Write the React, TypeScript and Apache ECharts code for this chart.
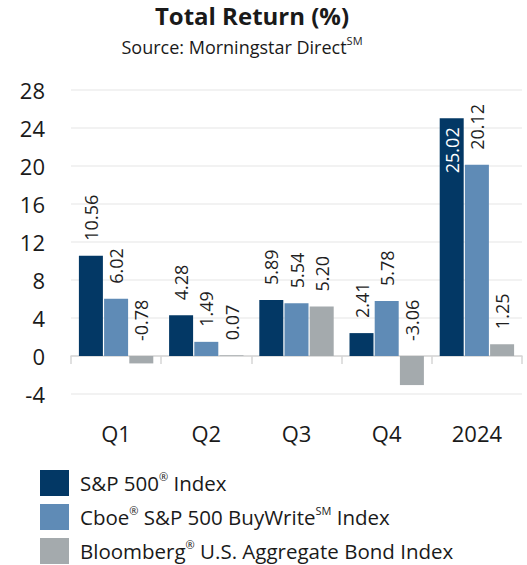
import React, { useEffect, useRef } from "react";
import * as echarts from "echarts";

const categories = ["Q1", "Q2", "Q3", "Q4", "2024"];
const sp500 = [10.56, 4.28, 5.89, 2.41, 25.02];
const buyWrite = [6.02, 1.49, 5.54, 5.78, 20.12];
const aggBond = [-0.78, 0.07, 5.2, -3.06, 1.25];
const seriesNames = [
  "S&P 500® Index",
  "Cboe® S&P 500 BuyWrite℠ Index",
  "Bloomberg® U.S. Aggregate Bond Index",
];
const legendRich: Record<string, string> = {
  "S&P 500® Index": "{t|S&P 500}{s|®}{t| Index}",
  "Cboe® S&P 500 BuyWrite℠ Index": "{t|Cboe}{s|®}{t| S&P 500 BuyWrite}{s|SM}{t| Index}",
  "Bloomberg® U.S. Aggregate Bond Index": "{t|Bloomberg}{s|®}{t| U.S. Aggregate Bond Index}",
};
const yMin = -4;
const yMax = 28;
const yStep = 4;
const insideLabelIndex = 4; // 25.02 label sits inside the bar

const colors = ["#033865", "#5f8bb6", "#a4aaad"];
const FONT = "'Open Sans', 'Noto Sans', sans-serif";

export default function App() {
  const ref = useRef<HTMLDivElement>(null);
  useEffect(() => {
    if (!ref.current) return;
    const chart = echarts.init(ref.current, undefined, { renderer: "svg" });
    const labelBase = {
      show: true,
      position: "top",
      rotate: 90,
      align: "left",
      verticalAlign: "middle",
      distance: 15,
      fontSize: 18,
      fontFamily: FONT,
      color: "#1f1f1f",
      formatter: (p: any) => Number(p.value).toFixed(2),
    };
    const mk = (name: string, data: number[], idx: number) => ({
      name,
      type: "bar",
      barWidth: 24,
      barGap: "5%",
      itemStyle: { color: colors[idx] },
      label: labelBase,
      data: data.map((v, i) =>
        idx === 0 && i === insideLabelIndex
          ? {
              value: v,
              label: {
                position: "insideTop",
                align: "right",
                verticalAlign: "middle",
                distance: 9,
                color: "#ffffff",
              },
            }
          : v
      ),
    });
    chart.setOption({
      animation: false,
      textStyle: { fontFamily: FONT },
      graphic: [
        {
          type: "text",
          x: 252,
          y: 3,
          style: {
            text: "Total Return (%)",
            textAlign: "center",
            textVerticalAlign: "top",
            fontSize: 24,
            fontWeight: "bold",
            fontFamily: FONT,
            fill: "#1a1a1a",
          },
        },
        {
          type: "text",
          x: 242,
          y: 35,
          style: {
            text: "{t|Source: Morningstar Direct}{s|SM}",
            textAlign: "center",
            textVerticalAlign: "top",
            fontFamily: FONT,
            fill: "#1a1a1a",
            rich: {
              t: { fontSize: 18, fontFamily: FONT, fill: "#1a1a1a", lineHeight: 24 },
              s: { fontSize: 11, fontFamily: FONT, fill: "#1a1a1a", verticalAlign: "top", lineHeight: 14 },
            },
          },
        },
      ],
      grid: { left: 71, right: 5, top: 90, bottom: 171 },
      legend: {
        orient: "vertical",
        left: 40,
        top: 470,
        padding: 0,
        itemWidth: 29,
        itemHeight: 26,
        itemGap: 8,
        icon: "rect",
        data: seriesNames,
        formatter: (n: string) => legendRich[n] || n,
        textStyle: {
          fontSize: 20.5,
          fontFamily: FONT,
          color: "#1a1a1a",
          padding: [0, 0, 0, 6],
          rich: {
            t: { fontSize: 20.5, fontFamily: FONT, color: "#1a1a1a", lineHeight: 24 },
            s: { fontSize: 11, fontFamily: FONT, color: "#1a1a1a", verticalAlign: "top", lineHeight: 12 },
          },
        },
      },
      xAxis: {
        type: "category",
        data: categories,
        axisLine: { onZero: true, lineStyle: { color: "#d6d6d6", width: 1.5 } },
        axisTick: { show: true, length: 8, lineStyle: { color: "#d6d6d6", width: 1.5 } },
        axisLabel: { fontSize: 22, fontFamily: FONT, color: "#1a1a1a", margin: 28 },
      },
      yAxis: {
        type: "value",
        min: yMin,
        max: yMax,
        interval: yStep,
        axisLine: { show: false },
        axisTick: { show: false },
        axisLabel: { fontSize: 22, fontFamily: FONT, color: "#1a1a1a", margin: 26 },
        splitLine: { lineStyle: { color: "#eeeeee", width: 1.5 } },
      },
      series: [mk(seriesNames[0], sp500, 0), mk(seriesNames[1], buyWrite, 1), mk(seriesNames[2], aggBond, 2)],
    });
    return () => chart.dispose();
  }, []);
  return (
    <div
      ref={ref}
      style={{ position: "absolute", left: 0, top: 0, width: 527, height: 565 }}
    />
  );
}
